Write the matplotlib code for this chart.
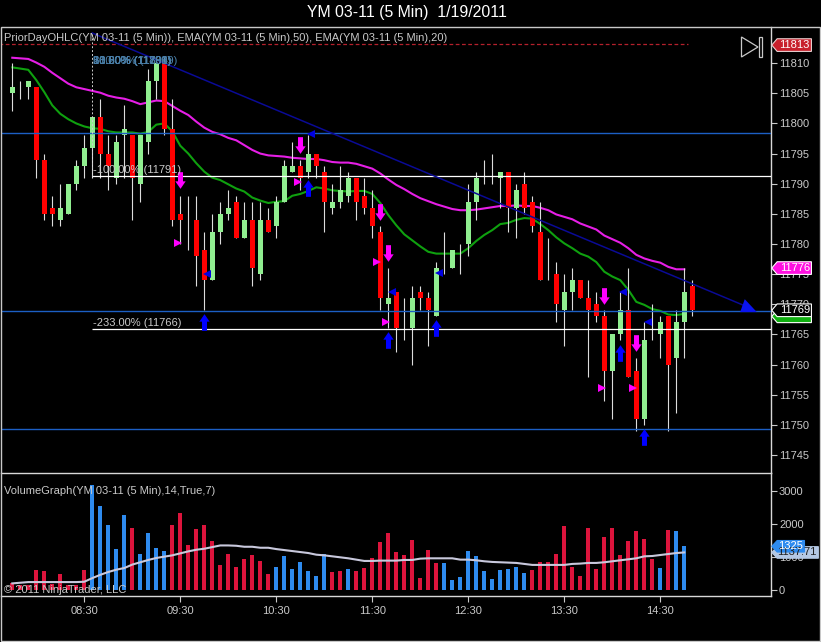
import matplotlib
matplotlib.use("Agg")
import matplotlib.pyplot as plt
from matplotlib.patches import Polygon, Rectangle
from matplotlib.path import Path

plt.rcParams['font.family'] = ['Liberation Sans', 'DejaVu Sans']

# candles, one entry per 5 minute bar
opens = [11805,11806,11806,11806,11794,11786,11784,11785,11790,11793,
         11796,11801,11795,11791,11798,11798,11790,11797,11807,11810,
         11799,11785,11784,11784,11779,11774,11782,11785,11787,11781,
         11784,11775,11784,11783,11787,11792,11793,11792,11795,11792,
         11786,11787,11788,11791,11788,11786,11782,11770,11772,11768,
         11766,11772,11771,11768,11778,11776,11778,11780,11787,11792,
         11792,11791,11792,11786,11790,11787,11782,11778,11775,11769,
         11772,11774,11771,11770,11768,11759,11765,11769,11759,11751,
         11767,11765,11768,11761,11767,11773]
highs = [11810,11807,11807,11806,11795,11788,11790,11790,11794,11798,
         11801,11804,11798,11798,11803,11798,11798,11809,11811,11811,
         11804,11788,11788,11788,11782,11785,11787,11789,11788,11787,
         11787,11787,11786,11788,11794,11797,11794,11798,11795,11793,
         11790,11793,11792,11791,11791,11789,11783,11776,11772,11771,
         11773,11773,11772,11777,11782,11779,11780,11790,11792,11794,
         11795,11792,11792,11790,11792,11788,11787,11781,11777,11775,
         11776,11774,11774,11772,11769,11765,11772,11776,11761,11767,
         11770,11768,11768,11769,11776,11774]
lows = [11802,11804,11804,11791,11784,11783,11783,11785,11789,11791,
        11791,11791,11789,11790,11791,11784,11787,11795,11804,11798,
        11783,11780,11779,11773,11769,11774,11780,11784,11781,11781,
        11773,11774,11782,11781,11787,11792,11789,11791,11791,11782,
        11785,11786,11787,11784,11785,11781,11769,11766,11762,11764,
        11760,11769,11763,11768,11775,11776,11775,11778,11784,11790,
        11790,11786,11782,11781,11785,11782,11774,11774,11767,11763,
        11769,11771,11758,11767,11754,11751,11764,11758,11749,11750,
        11764,11761,11749,11752,11761,11768]
closes = [11806,11806,11807,11794,11785,11785,11786,11790,11793,11796,
          11801,11795,11793,11797,11799,11791,11798,11807,11810,11799,
          11784,11784,11784,11778,11774,11782,11785,11786,11781,11784,
          11776,11784,11782,11787,11793,11793,11791,11795,11793,11787,
          11787,11789,11791,11787,11786,11783,11771,11771,11766,11768,
          11771,11771,11769,11776,11778,11779,11778,11787,11791,11792,
          11792,11792,11786,11789,11786,11783,11774,11778,11770,11772,
          11774,11771,11769,11768,11759,11765,11769,11758,11751,11764,
          11767,11767,11760,11767,11772,11769]

ema50 = [11810.9,11810.8,11810.7,11810.1,11809.4,11808.4,11807.5,11806.6,11806.0,11805.7,
         11805.4,11805.1,11804.6,11804.3,11804.1,11803.7,11803.2,11803.5,11803.8,11803.7,
         11802.9,11802.1,11801.4,11800.3,11799.3,11798.6,11798.2,11797.6,11797.2,11796.4,
         11795.6,11795.0,11794.7,11794.6,11794.5,11794.3,11794.2,11794.1,11794.1,11793.9,
         11793.6,11793.5,11793.5,11793.3,11792.9,11792.5,11791.7,11790.7,11789.8,11789.1,
         11788.3,11787.6,11787.1,11786.6,11786.2,11785.8,11785.6,11785.6,11785.7,11785.9,
         11786.1,11786.3,11786.3,11786.4,11786.3,11786.3,11786.0,11785.6,11784.9,11784.5,
         11784.1,11783.4,11782.9,11782.4,11781.4,11780.8,11780.2,11779.3,11778.2,11777.6,
         11777.2,11776.9,11776.2,11775.8,11775.8]
ema20 = [11809.3,11809.1,11808.9,11807.2,11805.2,11803.0,11801.6,11800.7,11800.0,11799.5,
         11799.2,11799.1,11798.7,11798.5,11798.5,11798.5,11798.3,11798.6,11799.8,11800.0,
         11798.7,11796.3,11795.0,11793.4,11792.0,11791.0,11790.6,11789.9,11789.2,11788.7,
         11787.7,11787.2,11786.8,11787.0,11787.1,11788.0,11788.3,11788.8,11789.4,11789.2,
         11788.9,11788.8,11788.7,11788.8,11788.8,11788.3,11786.8,11784.8,11783.1,11781.6,
         11780.6,11779.6,11778.7,11778.4,11778.4,11778.4,11778.4,11779.3,11780.5,11781.5,
         11782.3,11783.3,11783.5,11784.0,11784.3,11784.2,11783.3,11782.3,11781.1,11780.1,
         11779.3,11778.4,11777.9,11777.0,11775.4,11774.6,11774.0,11772.4,11770.4,11769.9,
         11769.2,11768.9,11768.3,11768.2,11768.4]

volume = [220,150,150,600,570,190,475,160,160,600,
          3170,2535,1960,1230,2260,1870,1080,1720,1260,1170,
          1960,2320,1350,1840,1960,1470,750,1080,690,930,
          1050,870,475,690,1020,625,840,565,415,1080,
          535,565,625,565,655,960,1445,1720,1140,1050,
          1500,350,1200,810,810,290,380,1170,1020,565,
          320,600,625,690,505,600,840,840,1080,1930,
          690,415,1870,625,1600,1870,1050,1470,1780,1535,
          930,655,1810,1780,1325]
vol_up = [0,0,0,0,0,0,0,0,0,0,
          1,1,1,1,1,0,1,1,1,1,
          0,0,0,0,0,0,0,0,0,0,
          0,0,0,1,1,1,1,1,1,1,
          0,0,1,0,0,0,0,0,0,0,
          0,0,0,0,1,1,1,1,1,1,
          1,1,1,1,1,0,0,0,0,0,
          0,0,0,0,0,0,0,0,0,0,
          0,1,0,1,1]
vol_avg = [200,220,240,240,240,240,240,240,240,250,
           360,460,545,615,665,770,840,910,970,1010,
           1050,1110,1170,1220,1250,1300,1350,1350,1340,1310,
           1310,1280,1280,1240,1210,1180,1150,1120,1070,1050,
           1020,990,960,920,880,880,890,890,890,910,
           910,950,960,960,960,960,920,920,900,870,
           850,840,830,820,790,760,760,760,760,760,
           790,800,820,820,840,870,900,930,960,1020,
           1030,1060,1090,1120,1137.71]

# drawing tool levels and signal markers
blue_levels = [11798.4, 11768.9, 11749.3]
fib_levels = [11791.2, 11765.85]
fib_labels = ["-100.00% (11791)", "-233.00% (11766)"]
stacked_labels = ["100.00% (11809)", "23.60% (11804)", "38.20% (11801)", "50.00% (11799)", "61.80% (11796)"]
prior_level = 11813.2
trend_x = [10, 92]
trend_y = [11815, 11769.5]

down_x = [21, 36, 46, 47, 74, 78]
down_y = [11790.6, 11796.4, 11785.3, 11778.5, 11771.4, 11763.6]
up_x = [24, 37, 47, 53, 76, 79]
up_y = [11767, 11789.3, 11764.1, 11766, 11761.9, 11748]
right_x = [20.7, 35.7, 45.6, 46.7, 73.7, 77.6]
right_y = [11780.1, 11790.3, 11777, 11767, 11756.1, 11756.1]
left_x = [24.3, 37.4, 47.5, 53.3, 76.3, 79.5]
left_y = [11775, 11798.2, 11772, 11775.2, 11772, 11767]

price_ticks = list(range(11745, 11815, 5))
vol_ticks = [0, 1000, 2000, 3000]
time_pos = [9, 21, 33, 45, 57, 69, 81]
time_labels = ["08:30", "09:30", "10:30", "11:30", "12:30", "13:30", "14:30"]

W, H = 821, 642
TXT = "#c9c9c9"
FS = 8.0


def px_rect(x0, y0, x1, y1):
    return [x0/W, 1-y1/H, (x1-x0)/W, (y1-y0)/H]


def flag(ax, val, label, face, edge, txt, half, right=0.0525):
    # price tag sitting on the right axis
    t = ax.get_yaxis_transform()
    p = Polygon([(1.001, val), (1.008, val+half), (1+right, val+half),
                 (1+right, val-half), (1.008, val-half)], closed=True,
                transform=t, fc=face, ec=edge, lw=0.8, clip_on=False, zorder=10)
    ax.add_patch(p)
    ax.text(1+right-0.002, val, label, transform=t, color=txt, fontsize=FS,
            ha='right', va='center', clip_on=False, zorder=11)


fig = plt.figure(figsize=(W/100, H/100), dpi=100, facecolor='black')
ax = fig.add_axes(px_rect(1, 27, 771, 473), facecolor='black')
av = fig.add_axes(px_rect(1, 473, 771, 596), facecolor='black')

bars = list(range(len(opens)))
ax.plot(bars[:len(ema50)], ema50, color='#e61ee6', lw=1.5, zorder=2)
ax.plot(bars[:len(ema20)], ema20, color='#0fa00f', lw=1.5, zorder=2)
ax.vlines(bars, lows, highs, color='#dcdcdc', lw=0.8, zorder=3)
for i in bars:
    col = '#90ee90' if closes[i] >= opens[i] else '#ff0000'
    ax.bar(i, abs(closes[i]-opens[i]), bottom=min(opens[i], closes[i]),
           width=0.64, color=col, lw=0, zorder=4)

ax.hlines(blue_levels, -2, 100, color='#1c5fc4', lw=1.0, zorder=5)
ax.hlines(fib_levels, 10, 100, color='white', lw=0.9, zorder=5)
ax.hlines(prior_level, -2, 84.5, color='#b5202c', lw=0.9, ls=(0, (3, 2)), zorder=5)
ax.vlines(10, fib_levels[0], trend_y[0], color='#cfcfcf', lw=0.7, ls=(0, (2, 2)), zorder=5)
ax.plot(trend_x, trend_y, color='#0a0a96', lw=1.1, zorder=6)

head = Path([(-1, -0.55), (-0.45, 1), (1, -0.55), (-1, -0.55)], closed=True)
ax.plot(trend_x[1], trend_y[1], marker=head, ms=12, color='#0a14f0', mew=0, zorder=7)

up_arrow = Path([(-.3, -1), (.3, -1), (.3, .1), (.62, .1), (0, 1), (-.62, .1), (-.3, .1), (-.3, -1)], closed=True)
down_arrow = Path([(-.3, 1), (.3, 1), (.3, -.1), (.62, -.1), (0, -1), (-.62, -.1), (-.3, -.1), (-.3, 1)], closed=True)
ax.plot(down_x, down_y, ls='', marker=down_arrow, ms=12, color='#ff00ff', mew=0, zorder=7)
ax.plot(up_x, up_y, ls='', marker=up_arrow, ms=12, color='#0000ff', mew=0, zorder=7)
ax.plot(right_x, right_y, ls='', marker='>', ms=6, color='#ff00ff', mew=0, zorder=7)
ax.plot(left_x, left_y, ls='', marker='<', ms=6, color='#0000e0', mew=0, zorder=7)

ax.set_xlim(-1.41, 94.84)
ax.set_ylim(11742, 11816)
ax.set_yticks(price_ticks)
ax.set_xticks([])
ax.yaxis.tick_right()
ax.tick_params(axis='y', colors=TXT, labelsize=FS, length=4.3, width=0.8, pad=1.5)
ax.ticklabel_format(useOffset=False, axis='y')

for s in ['left', 'top', 'bottom']:
    ax.spines[s].set_visible(False)
ax.spines['right'].set_color('#d8d8d8')
ax.spines['right'].set_linewidth(1)

for lev, lab in zip(fib_levels, fib_labels):
    ax.text(10.1, lev+0.25, lab, color=TXT, fontsize=FS, va='bottom', ha='left', zorder=8)
# stacked fib labels printing over each other near the top
for lab in stacked_labels:
    ax.text(10.1, 11810.3, lab, color='#4a7fa8', fontsize=FS, va='center', ha='left', zorder=8)

ax.text(3/770, 1-(38-27)/446, "PriorDayOHLC(YM 03-11 (5 Min)), EMA(YM 03-11 (5 Min),50), EMA(YM 03-11 (5 Min),20)",
        transform=ax.transAxes, color=TXT, fontsize=FS, va='center', ha='left', zorder=9)

flag(ax, 11813, "11813", '#c8202c', '#e8d0d0', 'white', 1.05)
flag(ax, 11768.0, "", '#10b010', 'white', 'white', 1.05)
flag(ax, 11769, "11769", 'black', 'white', 'white', 1.05)
flag(ax, 11776, "11776", '#ff10e0', 'white', 'white', 1.05)

# play / end icon at the top right of the price panel
fig.add_artist(Polygon([(741.5/W, 1-37/H), (758/W, 1-47/H), (741.5/W, 1-57/H)], closed=True,
                       fc='none', ec='#c8c8c8', lw=0.9, transform=fig.transFigure))
fig.add_artist(Rectangle((758.5/W, 1-57/H), 3.5/W, 20/H, fc='none', ec='#c8c8c8', lw=0.9,
                         transform=fig.transFigure))

vcols = ['#2e8bef' if u else '#dc143c' for u in vol_up]
av.bar(bars[:len(volume)], volume, width=0.5, color=vcols, lw=0, zorder=2)
av.plot(bars[:len(vol_avg)], vol_avg, color='#c8c8dc', lw=1.5, zorder=3)
av.set_xlim(-1.41, 94.84)
av.set_ylim(-182, 3545)
av.set_yticks(vol_ticks)
av.set_xticks(time_pos)
av.set_xticklabels(time_labels)
av.yaxis.tick_right()
av.tick_params(axis='y', colors=TXT, labelsize=FS, length=4.3, width=0.8, pad=1.5)
av.tick_params(axis='x', colors=TXT, labelsize=FS, length=4.3, width=0.8, pad=3)
av.spines['left'].set_visible(False)
for s in ['top', 'bottom', 'right']:
    av.spines[s].set_color('#d8d8d8')
    av.spines[s].set_linewidth(1)

av.text(3/770, 1-(491-473)/123, "VolumeGraph(YM 03-11 (5 Min),14,True,7)", transform=av.transAxes,
        color=TXT, fontsize=FS, va='center', ha='left', zorder=5)
av.text(3/770, 1-(590-473)/123, "© 2011 NinjaTrader, LLC", transform=av.transAxes,
        color=TXT, fontsize=FS, va='center', ha='left', zorder=5)

flag(av, 1137.71, "1137.71", '#b4c8e4', '#b4c8e4', '#202020', 175, right=0.0615)
flag(av, 1325, "1325", '#2e8bef', '#2e8bef', 'white', 175, right=0.0435)

fig.text(407/W, 1-12/H, "YM 03-11 (5 Min)  1/19/2011", color='white', fontsize=11.4, ha='center', va='center')

# outer frame of the chart window
fig.add_artist(Rectangle((1/W, 1/H), 819/W, 614/H, fc='none', ec='#c8c8c8', lw=1, transform=fig.transFigure))

fig.savefig("out.png", dpi=100, facecolor='black')
